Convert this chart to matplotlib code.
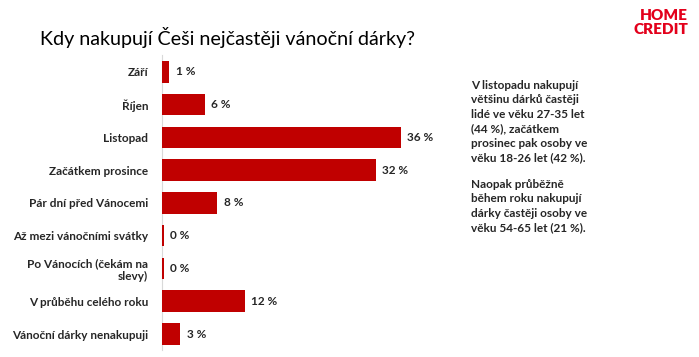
import matplotlib.pyplot as plt

categories = ["Září", "Říjen", "Listopad", "Začátkem prosince", "Pár dní před Vánocemi",
              "Až mezi vánočními svátky", "Po Vánocích (čekám na\nslevy)",
              "V průběhu celého roku", "Vánoční dárky nenakupuji"]
values = [1.1, 6.4, 35.9, 32.2, 8.3, 0.3, 0.3, 12.5, 2.75]
labels = ["1 %", "6 %", "36 %", "32 %", "8 %", "0 %", "0 %", "12 %", "3 %"]

note1 = ("V listopadu nakupují\nvětšinu dárků častěji\nlidé ve věku 27-35 let\n"
         "(44 %), začátkem\nprosinec pak osoby ve\nvěku 18-26 let (42 %).")
note2 = ("Naopak průběžně\nběhem roku nakupují\ndárky častěji osoby ve\n"
         "věku 54-65 let (21 %).")

plt.rcParams['font.family'] = ['Lato', 'DejaVu Sans']

W, H = 699, 357
fig = plt.figure(figsize=(W / 100, H / 100), dpi=100)

# axes box: x 162..462 px, rows 55..350 px
ax = fig.add_axes([162 / W, 1 - 350.4 / H, 300 / W, 295 / H])
y = list(range(len(categories)))
ax.barh(y, values, height=0.66, color='#C00000', zorder=3)
ax.set_ylim(len(categories) - 0.5, -0.5)
ax.set_xlim(0, 300 / 6.65)

for yi, v, lab in zip(y, values, labels):
    ax.text(v + 0.95, yi, lab, va='center', ha='left', fontsize=8.5,
            fontweight='bold', color='#262626')

ax.set_yticks(y)
ax.set_yticklabels(categories, fontsize=8.5, fontweight='bold', color='#262626')
ax.tick_params(axis='y', length=0, pad=10)
ax.set_xticks([])
for s in ['top', 'right', 'bottom']:
    ax.spines[s].set_visible(False)
ax.spines['left'].set_color('#D9D9D9')
ax.spines['left'].set_linewidth(0.8)
ax.spines['left'].set_zorder(0.5)

fig.text(40 / W, 1 - 37 / H, "Kdy nakupují Češi nejčastěji vánoční dárky?",
         fontsize=14.2, va='center', ha='left', color='#000000')

fig.text(688 / W, 1 - 15 / H, "HOME", fontsize=11, fontweight='heavy',
         color='#E3001B', ha='right', va='center')
fig.text(688 / W, 1 - 29 / H, "CREDIT", fontsize=11, fontweight='heavy',
         color='#E3001B', ha='right', va='center')

fig.text(471 / W, 1 - 80 / H, note1, fontsize=8.5, fontweight='bold',
         color='#262626', ha='left', va='top', linespacing=1.38)
fig.text(471 / W, 1 - 179 / H, note2, fontsize=8.5, fontweight='bold',
         color='#262626', ha='left', va='top', linespacing=1.38)

fig.savefig("out.png", dpi=100)
